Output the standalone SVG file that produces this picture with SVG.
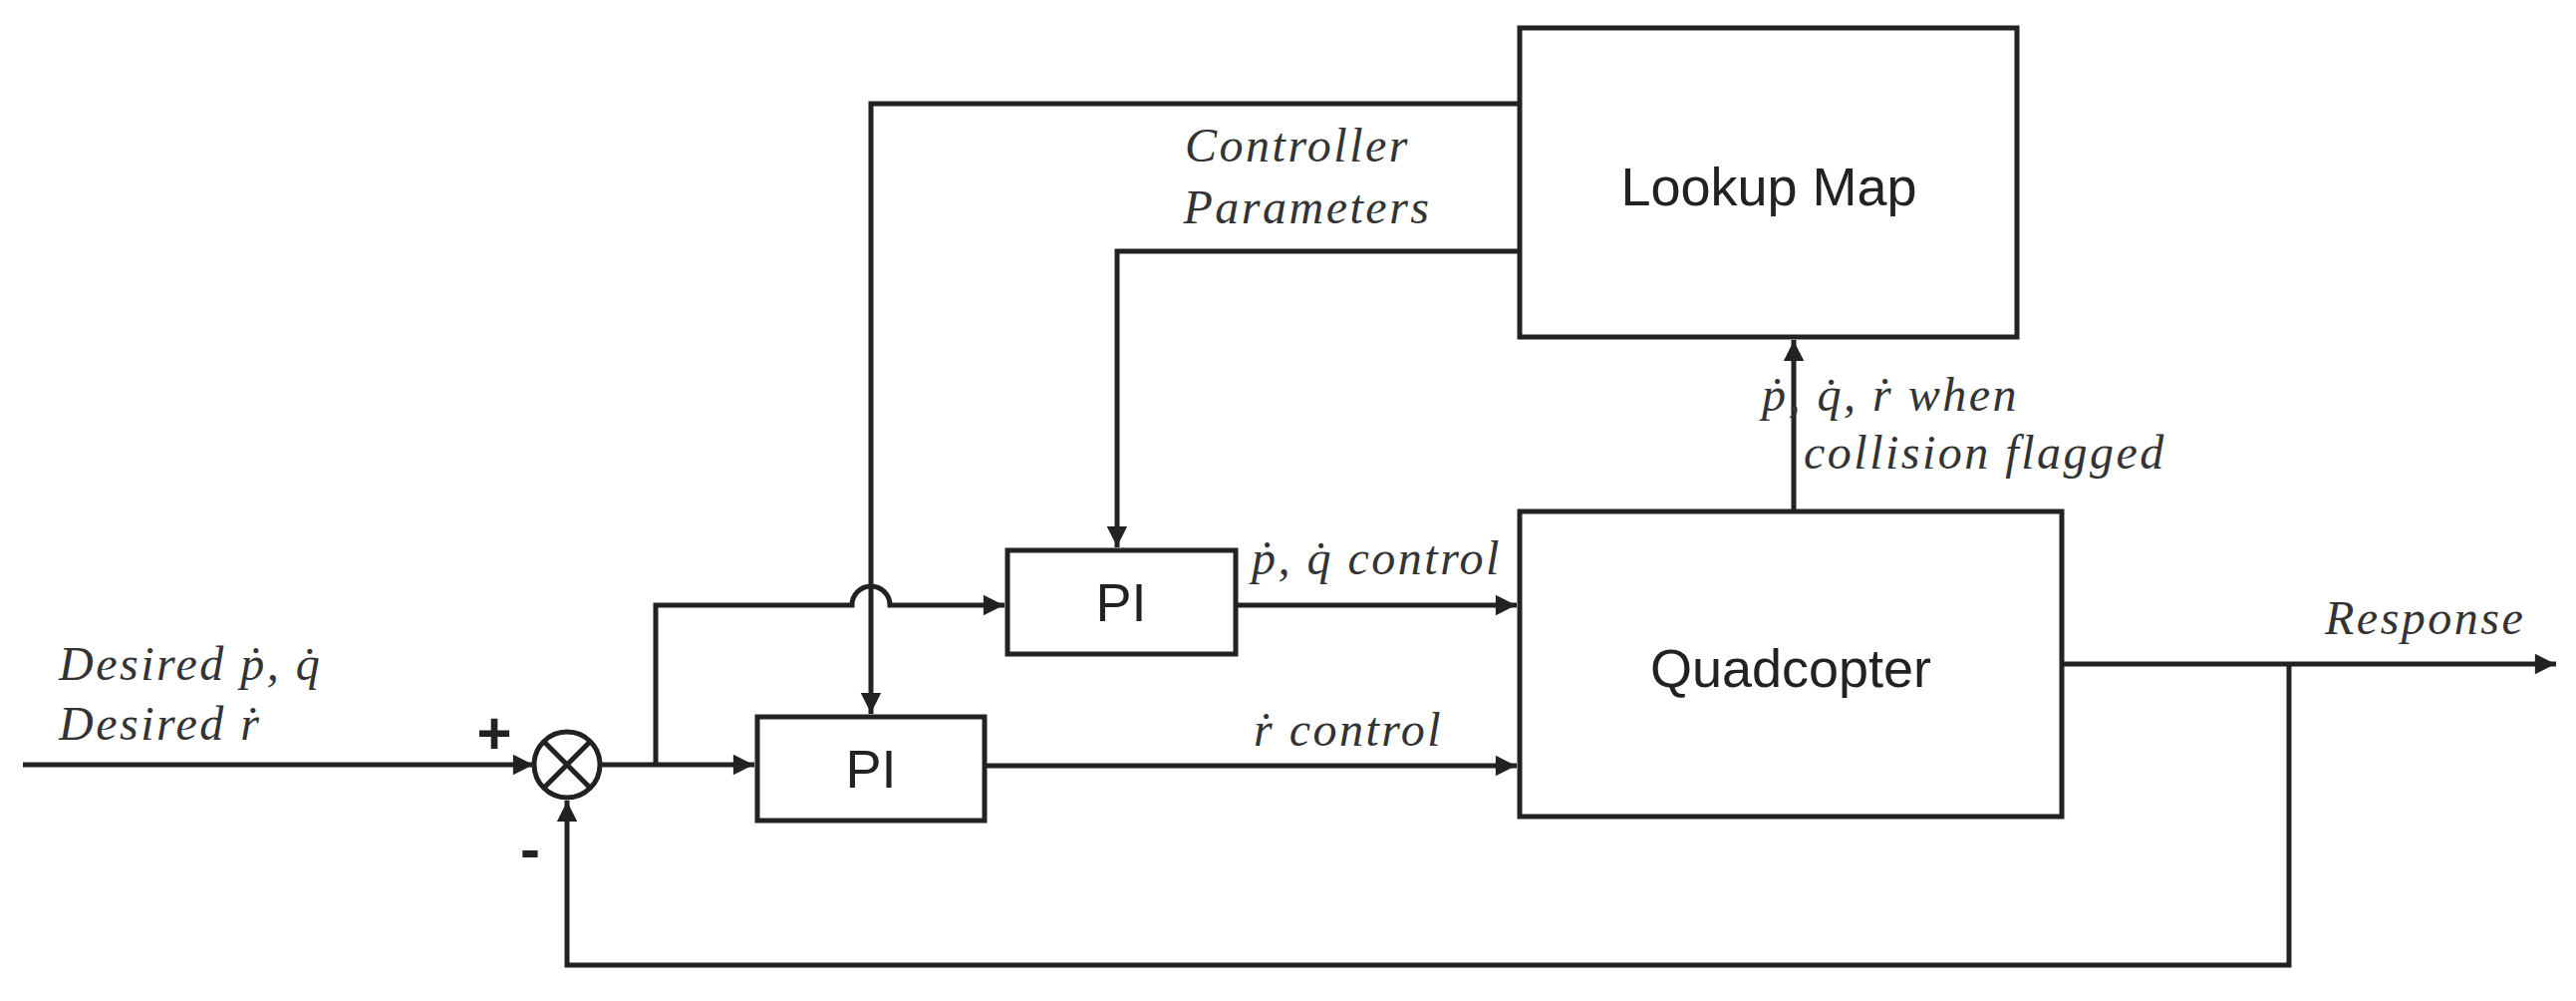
<svg xmlns="http://www.w3.org/2000/svg" width="2585" height="1004" viewBox="0 0 2585 1004">
<style>
.box{fill:#fff;stroke:#222;stroke-width:5}
.ln{fill:none;stroke:#222;stroke-width:5}
.lbl{font-family:"Liberation Serif",serif;font-style:italic;font-size:48px;letter-spacing:2.5px;fill:#333}
.nm{font-family:"Liberation Sans",Arial,sans-serif;font-size:54px;fill:#222;text-anchor:middle}
.sg{font-family:"Liberation Sans",Arial,sans-serif;font-size:60px;font-weight:bold;fill:#222;text-anchor:middle}
</style>
<defs>
<marker id="ah" viewBox="0 0 10 10" refX="10" refY="5" markerWidth="6" markerHeight="6" orient="auto" markerUnits="userSpaceOnUse" style="overflow:visible">
<path d="M0,0 L10,5 L0,10 z" fill="#222" transform="scale(3.4) translate(-7.4,-3.5)"/>
</marker>
</defs>
<g id="connectors">
<path class="ln" d="M23,767 H536" marker-end="url(#ah)"/>
<path class="ln" d="M602,767 H757" marker-end="url(#ah)"/>
<path class="ln" d="M658,767 V607 H855 A19,19 0 0 1 893,607 H1008" marker-end="url(#ah)"/>
<path class="ln" d="M1525,104 H874 V716" marker-end="url(#ah)"/>
<path class="ln" d="M1525,252 H1121 V549" marker-end="url(#ah)"/>
<path class="ln" d="M1240,607 H1522" marker-end="url(#ah)"/>
<path class="ln" d="M988,768 H1522" marker-end="url(#ah)"/>
<path class="ln" d="M1800,513 V341" marker-end="url(#ah)"/>
<path class="ln" d="M2069,666 H2565" marker-end="url(#ah)"/>
<path class="ln" d="M2297,666 V968 H569 V803" marker-end="url(#ah)"/>
</g>
<g id="sum">
<circle class="box" cx="569" cy="767" r="33"/>
<path class="ln" d="M546,744 L592,790 M592,744 L546,790"/>
<text class="sg" x="496" y="756">+</text>
<text class="sg" x="532" y="872">-</text>
</g>
<g id="lookup"><rect class="box" x="1525" y="28" width="499" height="310"/><text class="nm" x="1775" y="206">Lookup Map</text></g>
<g id="quad"><rect class="box" x="1525" y="513" width="544" height="306"/><text class="nm" x="1797" y="689">Quadcopter</text></g>
<g id="pi-top"><rect class="box" x="1011" y="552" width="229" height="104"/><text class="nm" x="1125" y="623">PI</text></g>
<g id="pi-bot"><rect class="box" x="760" y="719" width="228" height="104"/><text class="nm" x="874" y="790">PI</text></g>
<g id="labels">
<text class="lbl" x="1302" y="162" text-anchor="middle">Controller</text>
<text class="lbl" x="1312" y="224" text-anchor="middle">Parameters</text>
<text class="lbl" x="1897" y="412" text-anchor="middle">ṗ, q̇, ṙ when</text>
<text class="lbl" x="1810" y="470">collision flagged</text>
<text class="lbl" x="1256" y="576">ṗ, q̇ control</text>
<text class="lbl" x="1258" y="748">ṙ control</text>
<text class="lbl" x="2333" y="636">Response</text>
<text class="lbl" x="59" y="682">Desired ṗ, q̇</text>
<text class="lbl" x="59" y="742">Desired ṙ</text>
</g>
</svg>
